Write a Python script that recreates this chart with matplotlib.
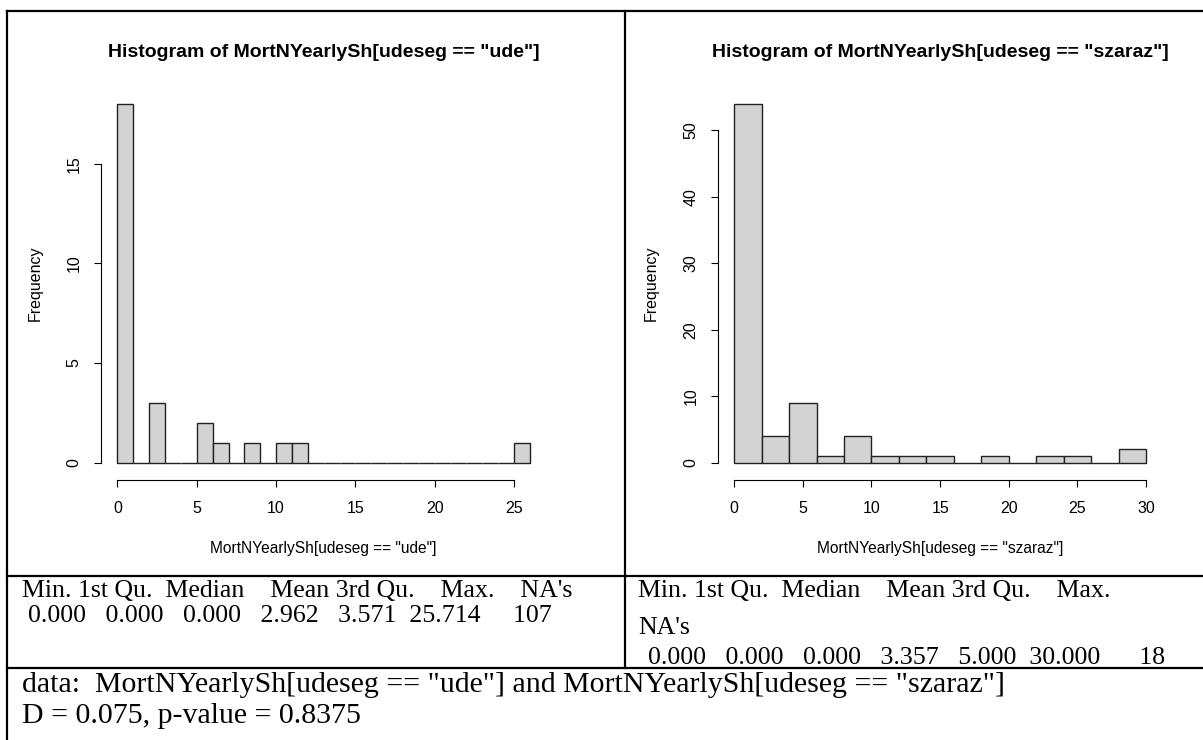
import numpy as np
import matplotlib.pyplot as plt
from matplotlib.lines import Line2D

W, H = 1203, 740

# histogram counts
ude_edges = list(range(0, 27))
ude_counts = [18, 0, 3, 0, 0, 2, 1, 0, 1, 0, 1, 1,
              0, 0, 0, 0, 0, 0, 0, 0, 0, 0, 0, 0, 0,
              1]
szaraz_edges = list(range(0, 31, 2))
szaraz_counts = [54, 4, 9, 1, 4, 1, 1, 1, 0, 1, 0, 1, 1, 0, 2]

ude_xticks = [0, 5, 10, 15, 20, 25]
ude_yticks = [0, 5, 10, 15]
szaraz_xticks = [0, 5, 10, 15, 20, 25, 30]
szaraz_yticks = [0, 10, 20, 30, 40, 50]

# summary() output and ks.test output, as printed by R
summary_head = "Min. 1st Qu.  Median    Mean 3rd Qu.    Max.    NA's"
summary_head_wrapped = ["Min. 1st Qu.  Median    Mean 3rd Qu.    Max.", "NA's"]
ude_summary = "0.000   0.000   0.000   2.962   3.571  25.714     107"
szaraz_summary = "0.000   0.000   0.000   3.357   5.000  30.000      18"
ks_lines = ['data:  MortNYearlySh[udeseg == "ude"] and MortNYearlySh[udeseg == "szaraz"]',
            'D = 0.075, p-value = 0.8375']

plt.rcParams['font.family'] = ['Liberation Sans', 'DejaVu Sans']

fig = plt.figure(figsize=(W / 100, H / 100), dpi=100)


def fx(x):
    return x / W


def fy(y):
    return 1 - y / H


def hist_panel(x0, x1, edges, counts, xticks, yticks, name):
    y0, y1 = 89.5, 477
    ax = fig.add_axes([fx(x0), fy(y1), (x1 - x0) / W, (y1 - y0) / H])
    edges = np.array(edges)
    ax.bar(edges[:-1], counts, width=np.diff(edges), align='edge',
           color='#d3d3d3', edgecolor='#222222', linewidth=1.0)
    span = edges[-1] - edges[0]
    top = max(counts)
    ax.set_xlim(edges[0] - 0.04 * span, edges[-1] + 0.04 * span)
    ax.set_ylim(-0.04 * top, top * 1.04)
    for s in ['top', 'right']:
        ax.spines[s].set_visible(False)
    ax.spines['left'].set_bounds(yticks[0], yticks[-1])
    ax.spines['bottom'].set_bounds(xticks[0], xticks[-1])
    ax.spines['bottom'].set_position(('outward', 2.2))
    for s in ['left', 'bottom']:
        ax.spines[s].set_linewidth(0.8)
    ax.set_xticks(xticks)
    ax.set_yticks(yticks)
    ax.tick_params(length=5, width=0.8, labelsize=11.5, colors='black')
    ax.tick_params(axis='x', pad=10)
    ax.tick_params(axis='y', pad=9, labelrotation=90)
    for lab in ax.get_yticklabels():
        lab.set_va('center')
    ax.patch.set_visible(False)
    cx = (x0 + x1) / 2
    fig.text(fx(cx), fy(52.7), f'Histogram of MortNYearlySh[udeseg == "{name}"]',
             ha='center', va='center', fontsize=14, fontweight='bold')
    fig.text(fx(cx), fy(548), f'MortNYearlySh[udeseg == "{name}"]',
             ha='center', va='center', fontsize=11.2)
    fig.text(fx(x0 - 66), fy((y0 + y1) / 2), 'Frequency', rotation=90,
             ha='center', va='center', fontsize=11.5)
    return ax


hist_panel(101, 546.4, ude_edges, ude_counts, ude_xticks, ude_yticks, 'ude')
hist_panel(717.7, 1162.6, szaraz_edges, szaraz_counts, szaraz_xticks, szaraz_yticks, 'szaraz')

# table borders
lw = 1.6
for xs, ys in [([7, 1210], [11, 11]), ([7, 7], [11, 745]), ([625, 625], [11, 668]),
               ([7, 1210], [576, 576]), ([7, 1210], [668, 668])]:
    fig.add_artist(Line2D([fx(v) for v in xs], [fy(v) for v in ys],
                          color='black', linewidth=lw, solid_capstyle='projecting'))

serif = ['Liberation Serif', 'DejaVu Serif']
tsize = 18.6

# left cell: summary of "ude"
fig.text(fx(22), fy(597), summary_head, family=serif, fontsize=tsize, va='baseline')
fig.text(fx(28), fy(622), ude_summary, family=serif, fontsize=tsize, va='baseline')

# right cell: summary of "szaraz" (header wraps in the narrower cell)
fig.text(fx(638), fy(597), summary_head_wrapped[0], family=serif, fontsize=tsize, va='baseline')
fig.text(fx(638), fy(634), summary_head_wrapped[1], family=serif, fontsize=tsize, va='baseline')
fig.text(fx(648), fy(664), szaraz_summary, family=serif, fontsize=tsize, va='baseline')

# bottom row: ks.test result
for line, yb in zip(ks_lines, [692, 723]):
    fig.text(fx(21.7), fy(yb), line, family=serif, fontsize=21.5, va='baseline')

fig.savefig('out.png', dpi=100)
